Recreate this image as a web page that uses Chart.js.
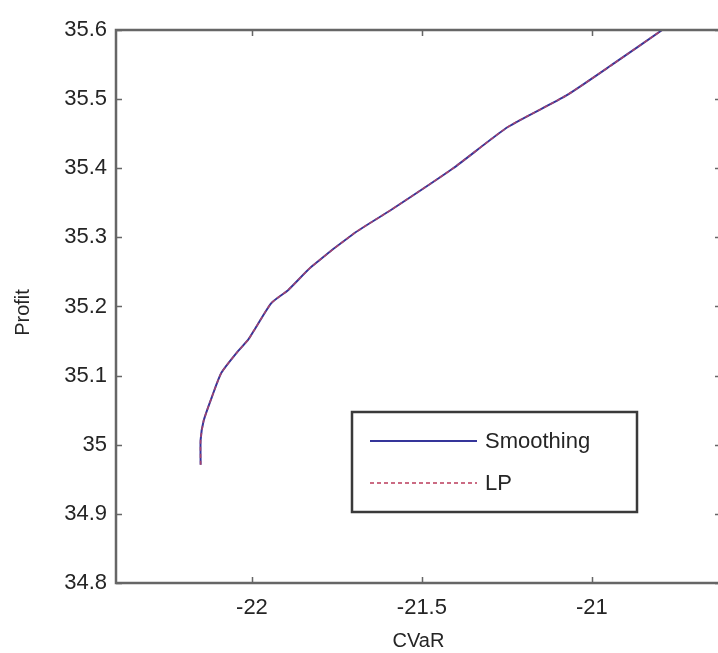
<!DOCTYPE html>
<html>
<head>
<meta charset="utf-8">
<script src="https://cdn.jsdelivr.net/npm/chart.js@4/dist/chart.umd.min.js"></script>
<style>
  html, body { margin: 0; padding: 0; background: #fff; overflow: hidden; width: 718px; height: 653px; }
  #wrap { width: 740px; height: 653px; }
</style>
</head>
<body>
<div id="wrap"><canvas id="c" width="740" height="653"></canvas></div>
<script>
// Efficient frontier: profit against CVaR for the two solution methods
const cvar = [-22.151, -22.151, -22.142, -22.118, -22.090, -22.045, -22.011, -21.993, -21.943,
              -21.893, -21.826, -21.699, -21.590, -21.408, -21.246, -21.076, -20.934, -20.793];
const smoothingProfit = [34.971, 35.007, 35.035, 35.069, 35.104, 35.133, 35.152, 35.166, 35.205,
                         35.224, 35.257, 35.306, 35.340, 35.400, 35.460, 35.505, 35.552, 35.600];
const lpProfit = [34.971, 35.007, 35.035, 35.069, 35.104, 35.133, 35.152, 35.166, 35.205,
                  35.224, 35.257, 35.306, 35.340, 35.400, 35.460, 35.505, 35.552, 35.600];
const seriesNames = ['Smoothing', 'LP'];
const xTicks = [-22, -21.5, -21];
const yTicks = [34.8, 34.9, 35.0, 35.1, 35.2, 35.3, 35.4, 35.5, 35.6];
const xTitle = 'CVaR';
const yTitle = 'Profit';

const FONT = '"Liberation Sans", Arial, Helvetica, sans-serif';
const TEXT = '#252525';
const AXIS = '#666';

const toPoints = (xs, ys) => xs.map((x, i) => ({ x, y: ys[i] }));

// Box, inward tick marks, axis titles and the boxed legend, drawn MATLAB-style
const framePlugin = {
  id: 'frame',
  afterDraw(chart) {
    const { ctx, chartArea: a, scales: { x, y } } = chart;
    ctx.save();
    ctx.strokeStyle = AXIS;
    ctx.lineWidth = 1.5;
    const tl = 6;
    ctx.beginPath();
    xTicks.forEach(v => {
      const px = Math.round(x.getPixelForValue(v)) + 0.5;
      ctx.moveTo(px, a.bottom); ctx.lineTo(px, a.bottom - tl);
      ctx.moveTo(px, a.top); ctx.lineTo(px, a.top + tl);
    });
    yTicks.forEach(v => {
      const py = Math.round(y.getPixelForValue(v)) + 0.5;
      ctx.moveTo(a.left, py); ctx.lineTo(a.left + tl, py);
      ctx.moveTo(a.right, py); ctx.lineTo(a.right - tl, py);
    });
    ctx.stroke();
    ctx.lineWidth = 2.5;
    ctx.strokeRect(a.left, a.top, a.right - a.left, a.bottom - a.top);

    // axis titles
    ctx.fillStyle = TEXT;
    ctx.font = '20px ' + FONT;
    ctx.textAlign = 'center';
    ctx.textBaseline = 'middle';
    ctx.fillText(xTitle, (a.left + a.right) / 2, 641);
    ctx.save();
    ctx.translate(23, (a.top + a.bottom) / 2 + 6);
    ctx.rotate(-Math.PI / 2);
    ctx.fillText(yTitle, 0, 0);
    ctx.restore();

    // legend
    const lx = a.left + 236, ly = a.top + 382, lw = 285, lh = 100;
    ctx.fillStyle = '#fff';
    ctx.fillRect(lx, ly, lw, lh);
    ctx.strokeStyle = '#3a3a3a';
    ctx.lineWidth = 2.5;
    ctx.strokeRect(lx, ly, lw, lh);
    ctx.font = '22px ' + FONT;
    ctx.textAlign = 'left';
    ctx.textBaseline = 'middle';
    chart.data.datasets.forEach((ds, i) => {
      const yy = ly + 29 + i * 42;
      ctx.save();
      ctx.strokeStyle = ds.borderColor;
      ctx.lineWidth = 2;
      ctx.setLineDash(ds.borderDash || []);
      ctx.beginPath();
      ctx.moveTo(lx + 18, yy);
      ctx.lineTo(lx + 125, yy);
      ctx.stroke();
      ctx.restore();
      ctx.fillStyle = TEXT;
      ctx.fillText(ds.label, lx + 133, yy + 1);
    });
    ctx.restore();
  }
};

new Chart(document.getElementById('c'), {
  type: 'scatter',
  data: {
    datasets: [
      {
        label: seriesNames[0],
        data: toPoints(cvar, smoothingProfit),
        showLine: true,
        borderColor: '#35359a',
        borderWidth: 2,
        pointRadius: 0,
        tension: 0.2,
        order: 1
      },
      {
        label: seriesNames[1],
        data: toPoints(cvar, lpProfit),
        showLine: true,
        borderColor: 'rgba(190, 70, 100, 0.8)',
        borderDash: [4, 3],
        borderWidth: 1.6,
        pointRadius: 0,
        tension: 0.2,
        order: 0
      }
    ]
  },
  options: {
    responsive: false,
    animation: false,
    devicePixelRatio: 1,
    layout: { padding: { top: 30, right: 19, left: 0, bottom: 0 } },
    plugins: { legend: { display: false }, tooltip: { enabled: false } },
    scales: {
      x: {
        type: 'linear',
        min: -22.4,
        max: -20.62,
        grid: { display: false, drawTicks: false },
        border: { display: false },
        afterBuildTicks: s => { s.ticks = xTicks.map(v => ({ value: v })); },
        afterFit: s => { s.height = 70; },
        ticks: {
          padding: 12,
          color: TEXT,
          font: { family: FONT, size: 22 },
          maxRotation: 0,
          callback: v => String(v)
        }
      },
      y: {
        type: 'linear',
        min: 34.8,
        max: 35.6,
        grid: { display: false, drawTicks: false },
        border: { display: false },
        afterBuildTicks: s => { s.ticks = yTicks.map(v => ({ value: v })); },
        afterFit: s => { s.width = 116; },
        ticks: {
          padding: 9,
          color: TEXT,
          font: { family: FONT, size: 22 },
          callback: v => String(Number(v.toFixed(1)))
        }
      }
    }
  },
  plugins: [framePlugin]
});
</script>
</body>
</html>
